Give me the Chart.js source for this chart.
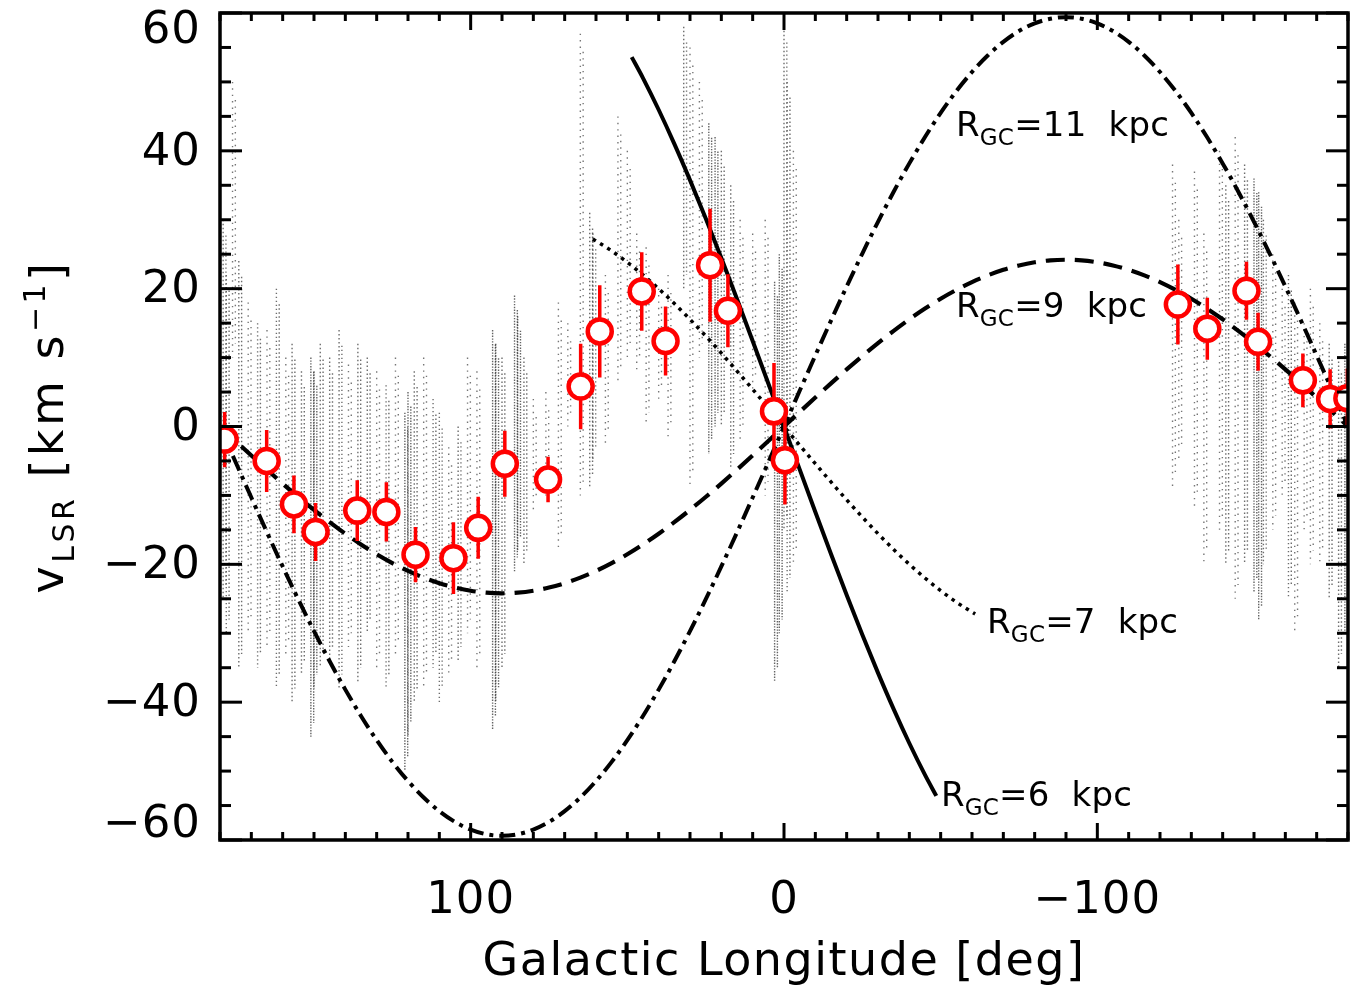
<!DOCTYPE html>
<html>
<head>
<meta charset="utf-8">
<script src="https://cdn.jsdelivr.net/npm/chart.js@4.4.1/dist/chart.umd.min.js"></script>
<style>
  html, body { margin: 0; padding: 0; background: #fff; overflow: hidden; }
  canvas { display: block; }
</style>
</head>
<body>
<canvas id="c" width="1355" height="988"></canvas>
<script>
// ---- observed clouds: longitude, LSR velocity, 1-sigma error ----
const obsL   = [178.5, 165.1, 156.4, 149.5, 136.2, 126.9, 117.6, 105.5, 97.6, 89.1, 75.3, 64.9, 58.8, 45.4, 37.8, 23.6, 17.9, 3.2, -0.3, -125.7, -135.1, -147.6, -151.3, -165.6, -174.3, -179.8];
const obsV   = [-1.9, -5.0, -11.3, -15.3, -12.2, -12.4, -18.6, -19.1, -14.7, -5.4, -7.7, 5.8, 13.8, 19.6, 12.4, 23.4, 16.8, 2.2, -4.9, 17.7, 14.2, 19.7, 12.3, 6.7, 4.0, 4.1];
const obsErr = [4.0, 4.5, 4.2, 4.2, 4.4, 4.3, 4.0, 5.2, 4.5, 4.8, 3.3, 6.2, 6.7, 5.7, 5.0, 8.2, 5.3, 7.0, 6.4, 5.8, 4.5, 4.2, 4.2, 3.9, 4.3, 4.3];

// ---- rotation-curve loci for constant galactocentric radius ----
const outerL = [180,175,170,165,160,155,150,145,140,135,130,125,120,115,110,105,100,95,90,85,80,75,70,65,60,55,50,45,40,35,30,25,20,15,10,5,0,
                -5,-10,-15,-20,-25,-30,-35,-40,-45,-50,-55,-60,-65,-70,-75,-80,-85,-90,-95,-100,-105,-110,-115,-120,-125,-130,-135,-140,-145,-150,-155,-160,-165,-170,-175,-180];
const vR9  = [0,-2.11,-4.20,-6.26,-8.28,-10.23,-12.10,-13.88,-15.56,-17.11,-18.54,-19.82,-20.96,-21.93,-22.74,-23.37,-23.83,-24.11,-24.2,-24.11,-23.83,-23.37,-22.74,-21.93,-20.96,-19.82,-18.54,-17.11,-15.56,-13.88,-12.10,-10.23,-8.28,-6.26,-4.20,-2.11,0,
              2.11,4.20,6.26,8.28,10.23,12.10,13.88,15.56,17.11,18.54,19.82,20.96,21.93,22.74,23.37,23.83,24.11,24.2,24.11,23.83,23.37,22.74,21.93,20.96,19.82,18.54,17.11,15.56,13.88,12.10,10.23,8.28,6.26,4.20,2.11,0];
const vR11 = [0,-5.18,-10.31,-15.37,-20.31,-25.10,-29.70,-34.07,-38.18,-42.00,-45.50,-48.66,-51.44,-53.83,-55.82,-57.38,-58.50,-59.17,-59.4,-59.17,-58.50,-57.38,-55.82,-53.83,-51.44,-48.66,-45.50,-42.00,-38.18,-34.07,-29.70,-25.10,-20.31,-15.37,-10.31,-5.18,0,
              5.18,10.31,15.37,20.31,25.10,29.70,34.07,38.18,42.00,45.50,48.66,51.44,53.83,55.82,57.38,58.50,59.17,59.4,59.17,58.50,57.38,55.82,53.83,51.44,48.66,45.50,42.00,38.18,34.07,29.70,25.10,20.31,15.37,10.31,5.18,0];
const innerL7 = [61,60,55,50,45,40,35,30,25,20,15,10,5,0,-5,-10,-15,-20,-25,-30,-35,-40,-45,-50,-55,-60,-61];
const vR7  = [27.2,26.93,25.48,23.82,21.99,19.99,17.84,15.55,13.14,10.64,8.05,5.40,2.71,0,-2.71,-5.40,-8.05,-10.64,-13.14,-15.55,-17.84,-19.99,-21.99,-23.82,-25.48,-26.93,-27.2];
const innerL6 = [48.6,45,40,35,30,25,20,15,10,5,0,-5,-10,-15,-20,-25,-30,-35,-40,-45,-48.6];
const vR6  = [53.6,50.56,45.96,41.01,35.75,30.22,24.45,18.50,12.41,6.23,0,-6.23,-12.41,-18.50,-24.45,-30.22,-35.75,-41.01,-45.96,-50.56,-53.6];

// ---- background survey emission: velocity extent of each longitude streak ----
// density: 0 sparse, 1 medium, 2 dense
const streakL   = [179,178,176,174,171,168,165,162,159,157,154,151,150,148,145,142,139,136,133,130,127,124,121,120,118,115,112,110,107,104,101,98,93,92,90,86,85,83,80,76,72,69,65,62,61,57,53,50,47,44,40,37,32,30,27,24,22,20,17,14,10,6,3,1.5,0,-1,-3,
                   -124,-126,-131,-134,-139,-141,-144,-147,-150,-151.5,-153,-156,-159,-161,-163,-166,-168,-171,-174,-177,-179];
const streakTop = [30,22,50,24,18,15,14,20,10,12,8,10,8,12,10,14,9,12,10,8,6,10,2,5,8,10,4,2,-3,0,10,8,14,12,10,19,16,10,4,5,18,15,57,31,28,22,45,40,28,26,20,22,58,55,50,44,42,40,35,30,28,30,21,25,58,50,40,
                   38,30,37,28,40,35,42,38,36,34,30,25,20,22,18,15,20,15,12,10,12];
const streakBot = [-25,-30,10,-35,-30,-35,-32,-38,-33,-40,-36,-45,-38,-35,-34,-38,-32,-37,-30,-35,-38,-33,-50,-45,-40,-38,-35,-40,-36,-34,-30,-35,-44,-40,-35,-21,-18,-20,-12,-10,-18,0,-10,-9,-5,-3,6,10,8,0,4,-2,20,-9,10,-4,0,0,-6,-2,5,-10,-37,-30,-15,-24,-20,
                   -9,-5,-12,-20,-15,-20,-25,-20,-24,-28,-20,-15,-10,-25,-30,-15,-20,-20,-25,-35,-30];
const streakDen = [1,1,0,1,0,1,0,1,0,1,1,2,2,1,1,1,0,1,1,0,1,0,2,2,1,0,1,1,0,1,0,0,2,2,1,2,2,1,0,0,0,0,0,1,1,0,0,0,0,0,0,0,1,0,0,2,2,1,1,0,0,0,2,2,1,1,0,
                   0,0,0,0,0,1,0,1,2,2,1,0,0,1,0,0,0,0,1,1,2];

// ---- annotations for the loci ----
const curveRadius = ['11', '9', '7', '6'];
const curveLabelL = [-54.9, -54.9, -64.8, -50.1];
const curveLabelV = [42.2, 15.9, -30.0, -55.0];

// ---- axis ticks ----
const xTickValues = [100, 0, -100];
const xTickLabels = ['100', '0', '\u2212100'];
const yTickValues = [60, 40, 20, 0, -20, -40, -60];
const yTickLabels = ['60', '40', '20', '0', '\u221220', '\u221240', '\u221260'];

const FONT = "'DejaVu Sans', 'Liberation Sans', sans-serif";
const RED = '#ff0000';

function pts(xs, ys) { return xs.map((x, i) => ({ x, y: ys[i] })); }

// error bars as separate vertical segments
const errPts = [];
obsL.forEach((l, i) => {
  errPts.push({ x: l, y: obsV[i] - obsErr[i] }, { x: l, y: obsV[i] + obsErr[i] }, { x: l, y: null });
});

// streak segments grouped by density; each streak is drawn as two
// neighbouring dotted columns so it reads as a scatter of samples
const streakStyles = [
  { dash: [1.4, 5], color: 'rgba(60,60,60,0.7)' },
  { dash: [1.4, 2.6], color: 'rgba(60,60,60,0.75)' },
  { dash: [1.4, 1.4], color: 'rgba(60,60,60,0.8)' }
];
const streakSets = [];
streakStyles.forEach((st, d) => {
  [0, 0.9].forEach((shift, k) => {
    const data = [];
    streakL.forEach((l, i) => {
      if (streakDen[i] !== d) return;
      data.push({ x: l - shift, y: streakTop[i] - 2 * k }, { x: l - shift, y: streakBot[i] + 2 * k }, { x: l, y: null });
    });
    streakSets.push({
      data, showLine: true, spanGaps: false, pointRadius: 0,
      borderColor: st.color, borderWidth: 1.4, borderDash: st.dash,
      borderDashOffset: k * 2.1, clip: 0
    });
  });
});

function curve(xs, ys, dash, width) {
  return {
    data: pts(xs, ys), showLine: true, pointRadius: 0, borderColor: '#000',
    borderWidth: width, borderDash: dash, cubicInterpolationMode: 'monotone', clip: 0,
    borderCapStyle: 'butt'
  };
}

const datasets = [
  { // observed clouds
    data: pts(obsL, obsV), showLine: false, pointStyle: 'circle', pointRadius: 12,
    pointBorderWidth: 4.5, pointBorderColor: RED, pointBackgroundColor: '#fff', clip: 0
  },
  { // error bars
    data: errPts, showLine: true, spanGaps: false, pointRadius: 0,
    borderColor: RED, borderWidth: 3.5, clip: 0
  },
  curve(innerL6, vR6, [], 4),
  curve(innerL7, vR7, [3.5, 5], 3.5),
  curve(outerL, vR9, [19, 10], 4.2),
  curve(outerL, vR11, [16, 6, 4, 6], 4),
  ...streakSets
];

// text pieces with sub/superscript shifts, laid out along the baseline
function richWidth(ctx, parts, spacing) {
  let w = 0;
  parts.forEach(p => {
    ctx.font = p.size + 'px ' + FONT;
    ctx.letterSpacing = spacing + 'px';
    w += ctx.measureText(p.t).width;
  });
  return w;
}
function drawRich(ctx, parts, x, y, spacing) {
  let cx = x;
  parts.forEach(p => {
    ctx.font = p.size + 'px ' + FONT;
    ctx.letterSpacing = spacing + 'px';
    ctx.fillText(p.t, cx, y + (p.dy || 0));
    cx += ctx.measureText(p.t).width;
  });
  ctx.letterSpacing = '0px';
}

const axesPlugin = {
  id: 'idlAxes',
  afterDraw(chart) {
    const { ctx, chartArea: a, scales: { x, y } } = chart;
    ctx.save();
    ctx.strokeStyle = '#000';
    ctx.fillStyle = '#000';
    ctx.lineCap = 'butt';
    ctx.lineWidth = 3;
    const seg = (x1, y1, x2, y2) => { ctx.beginPath(); ctx.moveTo(x1, y1); ctx.lineTo(x2, y2); ctx.stroke(); };

    // inward ticks on all four sides
    for (let l = -180; l <= 180; l += 10) {
      const px = x.getPixelForValue(l);
      const len = (l % 100 === 0) ? 17 : 8;
      seg(px, a.bottom, px, a.bottom - len);
      seg(px, a.top, px, a.top + len);
    }
    for (let v = -60; v <= 60; v += 5) {
      const py = y.getPixelForValue(v);
      const len = (v % 20 === 0) ? 22 : 11;
      seg(a.left, py, a.left + len, py);
      seg(a.right, py, a.right - len, py);
    }
    ctx.lineWidth = 3.5;
    ctx.strokeRect(a.left, a.top, a.right - a.left, a.bottom - a.top);

    // tick labels
    ctx.font = '45px ' + FONT;
    ctx.letterSpacing = '1px';
    ctx.textAlign = 'center';
    ctx.textBaseline = 'alphabetic';
    xTickValues.forEach((v, i) => ctx.fillText(xTickLabels[i], x.getPixelForValue(v), a.bottom + 73));
    ctx.textAlign = 'right';
    ctx.textBaseline = 'middle';
    yTickValues.forEach((v, i) => {
      let py = y.getPixelForValue(v);
      py = Math.min(Math.max(py, a.top + 16), a.bottom - 17);
      ctx.fillText(yTickLabels[i], a.left - 19, py + 2);
    });

    // axis titles
    ctx.textAlign = 'center';
    ctx.textBaseline = 'alphabetic';
    ctx.font = '46px ' + FONT;
    ctx.letterSpacing = '1.5px';
    ctx.fillText('Galactic Longitude [deg]', (a.left + a.right) / 2, a.bottom + 135);
    ctx.letterSpacing = '0px';

    ctx.textAlign = 'left';
    const yTitle = [
      { t: 'v', size: 46 }, { t: 'LSR', size: 30, dy: 11 },
      { t: ' [km s', size: 46 }, { t: '\u22121', size: 30, dy: -18 }, { t: ']', size: 46 }
    ];
    const w = richWidth(ctx, yTitle, 3.5);
    ctx.save();
    ctx.translate(63, (a.top + a.bottom) / 2);
    ctx.rotate(-Math.PI / 2);
    drawRich(ctx, yTitle, -w / 2, 0, 3.5);
    ctx.restore();

    // locus labels, anchored in data coordinates
    curveRadius.forEach((r, i) => {
      const px = x.getPixelForValue(curveLabelL[i]);
      const py = y.getPixelForValue(curveLabelV[i]);
      drawRich(ctx, [
        { t: 'R', size: 34 }, { t: 'GC', size: 23, dy: 9 }, { t: '=' + r + '  kpc', size: 34 }
      ], px, py, 0.2);
    });
    ctx.restore();
  }
};

new Chart(document.getElementById('c'), {
  type: 'scatter',
  data: { datasets },
  options: {
    responsive: false,
    animation: false,
    events: [],
    layout: { autoPadding: false, padding: { left: 220, right: 7, top: 13, bottom: 148 } },
    plugins: { legend: { display: false }, tooltip: { enabled: false } },
    scales: {
      x: { type: 'linear', min: -180, max: 180, reverse: true, display: false },
      y: { type: 'linear', min: -60, max: 60, display: false }
    }
  },
  plugins: [axesPlugin]
});
</script>
</body>
</html>
